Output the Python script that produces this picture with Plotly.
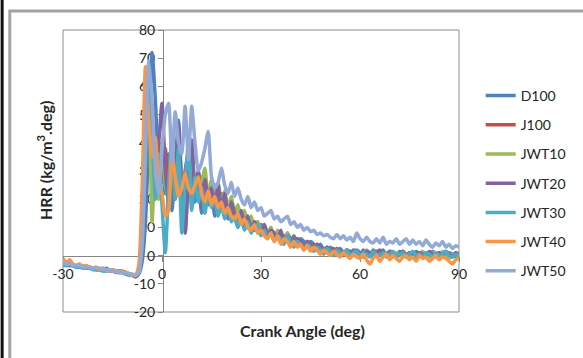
import plotly.graph_objects as go

# Crank angle grid (deg), one value per degree
angle = list(range(-30, 91))

# Heat release rate (kg/m^3.deg), rows of ten degrees starting at -30
D100 = [
    -3, -3, -3.5, -3.5, -4, -3.5, -4, -4, -4.5, -4.5,
    -4.5, -5, -5, -4.5, -5, -5, -5.5, -5.5, -5.5, -6,
    -6.5, -7, -7.5, -6.5, -2, 12, 42, 72, 55, 32,
    40, 22, 36, 16, 31, 48, 24, 8, 29, 38,
    19, 27, 15, 25, 18, 23, 14, 20, 16, 21,
    13, 17, 14, 10, 15, 11, 13, 9, 12, 8,
    11, 9, 7, 10, 6, 8, 7, 5, 8, 5,
    7, 4, 6, 5, 3, 5, 4, 2, 4, 2,
    1, 3, 2, 0.5, 2.5, 1, 2, 0.5, 2, 1.5,
    0, 2, 1, 0, 2, 1, 0.5, 2, 0, 1.5,
    1, 0, 1.5, 0.5, -0.5, 1, 0, 1.5, 0.5, -0.5,
    1, 0, 1.5, 0.5, -0.5, 1, 0, 1, 0.5, -0.5,
    0.5,
]
J100 = [
    -2.5, -3, -3, -3.5, -3.5, -4, -4, -4, -4, -4.5,
    -4.5, -5, -5, -5, -5, -5.5, -5.5, -5.5, -6, -6,
    -6.5, -7, -7, -6, 2, 30, 65, 50, 28, 40,
    26, 38, 18, 33, 20, 42, 17, 30, 36, 18,
    28, 21, 26, 17, 24, 19, 25, 16, 22, 15,
    19, 14, 16, 12, 15, 10, 13, 11, 9, 12,
    8, 10, 7, 9, 6, 8, 5, 7, 6, 4,
    6, 4, 5, 3, 5, 3, 4, 2, 3, 2,
    3, 1, 2.5, 1, 2, 0.5, 2, 1, 0, 1.5,
    1, -0.5, 1.5, 0.5, 0, 1.5, 0, 1, 0.5, -0.5,
    1, 0.5, 0, 1.5, 0, 1, -0.5, 0.5, 1, 0,
    0.5, 1, -0.5, 0.5, 1, 0, 0.5, -0.5, 0.5, 0,
    0,
]
JWT10 = [
    -3, -3, -3, -3.5, -4, -4, -3.5, -4, -4.5, -4.5,
    -5, -4.5, -5, -5, -5.5, -5, -5.5, -6, -6, -6,
    -6.5, -7, -7, -5, 8, 38, 58, 12, 35, 20,
    40, 25, 20, 38, 22, 35, 28, 14, 33, 40,
    24, 30, 26, 31, 20, 27, 22, 26, 18, 23,
    17, 21, 15, 18, 13, 16, 11, 14, 10, 12,
    9, 11, 8, 10, 6, 9, 7, 5, 8, 6,
    4, 6, 5, 3, 5, 4, 2, 4, 3, 1.5,
    3, 2, 1, 2.5, 1.5, 0.5, 2, 1, 0, 1.5,
    1, 0, 2, 0.5, -0.5, 1, 1.5, 0, 1, 0.5,
    -0.5, 1, 0, 1.5, 0.5, -0.5, 1, 0, 0.5, 1.5,
    0, -0.5, 1, 0.5, 0, 1.5, 0.5, -1, 0.5, 0,
    0.5,
]
JWT20 = [
    -3, -3.5, -3.5, -3.5, -4, -4, -4, -4.5, -4.5, -4.5,
    -5, -5, -4.5, -5, -5.5, -5.5, -5.5, -6, -6, -6.5,
    -6.5, -7, -7.5, -6, 4, 34, 62, 42, 30, 40,
    54, 30, 18, 35, 24, 46, 22, 8, 28, 41,
    22, 30, 17, 27, 21, 24, 18, 25, 16, 22,
    14, 19, 15, 12, 16, 11, 14, 9, 12, 10,
    8, 11, 7, 9, 8, 6, 9, 5, 7, 6,
    4, 6, 5, 3, 5, 4, 2.5, 4, 3, 1.5,
    3, 2, 1, 2.5, 1.5, 0, 2, 1.5, 0.5, 2,
    1, 0, 1.5, 1, -0.5, 1, 2, 0.5, 0, 1.5,
    1, -0.5, 0.5, 1.5, 0, 1, 0.5, -0.5, 1, 0.5,
    0, 1.5, 0.5, -0.5, 1, 0, 1.5, 0.5, -0.5, 1,
    0.5,
]
JWT30 = [
    -3.5, -3.5, -3, -3.5, -4, -4, -4.5, -4.5, -4.5, -5,
    -5, -5, -5.5, -5.5, -5.5, -5.5, -6, -6, -6, -6.5,
    -7, -7, -7, -6, 3, 32, 60, 44, 20, 36,
    18, 1, 24, 42, 20, 38, 8, 26, 40, 16,
    28, 19, 24, 15, 22, 17, 20, 14, 18, 13,
    17, 12, 14, 10, 13, 9, 12, 8, 10, 11,
    7, 9, 6, 8, 5, 7, 6, 4, 7, 5,
    3, 5, 4, 2, 4, 3, 1.5, 3, 2, 0.5,
    2.5, 1.5, 0, 2, 1, 0.5, 2, 0, 1, 1.5,
    0, 1, 0.5, -0.5, 1.5, 0.5, 0, 1, -0.5, 0.5,
    1.5, 0, 0.5, 1, -0.5, 0.5, 1.5, 0, 0.5, -0.5,
    1, 0.5, -0.5, 1, 0, 0.5, 1.5, 0, -0.5, 0.5,
    0,
]
JWT40 = [
    -1, -2.5, -1.5, -3, -3.5, -3, -4, -3.5, -4, -4.5,
    -4, -5, -4.5, -5, -5.5, -5, -5.5, -6, -5.5, -6,
    -6.5, -7, -7, -3, 25, 67, 48, 35, 42, 25,
    22, 14, 16, 36, 28, 21, 24, 29, 24, 22,
    25, 28, 22, 19, 23, 18, 21, 17, 19, 15,
    17, 14, 13, 15, 11, 13, 10, 9, 11, 8,
    9, 7, 6, 8, 5, 7, 4, 6, 5, 3,
    5, 3, 4, 2, 3.5, 1.5, 3, 2, 0.5, 2,
    1, 0, 1.5, 0.5, -0.5, 1, 0, -1, 0.5, -0.5,
    -1, 0.5, -1.5, -3, -1, 0, -2, -0.5, 0.5, -1.5,
    0, -1, -2, -0.5, 0, -1.5, -0.5, -2, 0, -1,
    -0.5, -2, -1, 0, -1.5, -0.5, -1, -2, -3, -1.5,
    -1,
]
JWT50 = [
    -2.5, -3, -3, -3.5, -3.5, -3.5, -4, -4, -4, -4.5,
    -4.5, -4.5, -5, -5, -5, -5.5, -5.5, -5.5, -6, -6,
    -6.5, -6.5, -7, -6, 5, 40, 69, 55, 30, 22,
    38, 50, 54, 33, 51, 40, 36, 53, 34, 53,
    40, 30, 33, 38, 44, 28, 24, 26, 31, 25,
    22, 26, 21, 24, 20, 18, 21, 17, 19, 16,
    17, 14, 15, 16, 13, 14, 12, 13, 14, 11,
    12, 10, 11, 9, 10, 8.5, 9, 7.5, 8, 7,
    7.5, 6.5, 6, 7.5, 6, 7, 5.5, 6.5, 5, 8,
    6, 5, 6.5, 5, 4.5, 6, 4.5, 6.5, 4, 5,
    4.5, 6, 4, 5, 6, 4, 5.5, 4, 5, 3.5,
    5.5, 4, 3, 4.5, 3.5, 5, 3, 4, 2.5, 3.5,
    3,
]

series_names = ["D100", "J100", "JWT10", "JWT20", "JWT30", "JWT40", "JWT50"]
series_values = [D100, J100, JWT10, JWT20, JWT30, JWT40, JWT50]
series_colors = ["#4F81BD", "#C0504D", "#9BBB59", "#8064A2",
                 "#4BACC6", "#F79646", "#93AAD6"]

x_ticks = [-30, 0, 30, 60, 90]
y_ticks = [-20, -10, 0, 10, 20, 30, 40, 50, 60, 70, 80]

W, H = 583, 358
L, R, T, B = 63, 465, 30, 312  # plot area edges in pixels


def px(x):
    return (x - L) / (R - L)


def py(y):
    return (B - y) / (B - T)


fig = go.Figure()
for name, vals, col in zip(series_names, series_values, series_colors):
    fig.add_trace(go.Scatter(
        x=angle, y=vals, name=name, mode="lines", legendgroup=name,
        line=dict(color=col, width=3.5, shape="spline", smoothing=0.6),
    ))

FONT = "Lato, Open Sans, sans-serif"
tick_font = dict(family=FONT, size=14, color="#262626")
axis_col = "#868686"

fig.update_layout(
    width=W, height=H,
    margin=dict(l=L, r=W - R, t=T, b=H - B, pad=0),
    paper_bgcolor="white", plot_bgcolor="white",
    font=tick_font,
    showlegend=True,
    legend=dict(
        x=px(487), y=py(80), xanchor="left", yanchor="top",
        traceorder="grouped", tracegroupgap=8,
        font=dict(family=FONT, size=14, color="#262626"),
        bgcolor="rgba(0,0,0,0)", itemwidth=30,
    ),
    xaxis=dict(
        range=[-30, 90], tickvals=x_ticks, ticktext=[str(v) for v in x_ticks],
        showgrid=False, zeroline=False,
        anchor="free", position=py(256), showline=True, linecolor=axis_col,
        linewidth=1, ticks="outside", ticklen=5, tickcolor=axis_col,
        layer="below traces", tickfont=tick_font,
    ),
    yaxis=dict(
        range=[-20, 80], tickvals=y_ticks, ticktext=[str(v) for v in y_ticks],
        showgrid=False, zeroline=False,
        anchor="free", position=px(164.5), showline=True, linecolor=axis_col,
        linewidth=1, ticks="outside", ticklen=5, tickcolor=axis_col,
        layer="below traces", tickfont=tick_font,
    ),
    shapes=[
        # plot area border
        dict(type="rect", xref="paper", yref="paper", x0=0, x1=1, y0=0, y1=1,
             line=dict(color="#8c8c8c", width=1), layer="below"),
        # chart frame
        dict(type="rect", xref="paper", yref="paper",
             x0=px(9), x1=px(620), y0=py(390), y1=py(11),
             line=dict(color="#a3a3a3", width=3), layer="below"),
        dict(type="line", xref="paper", yref="paper",
             x0=px(1.2), x1=px(1.2), y0=py(0), y1=py(358),
             line=dict(color="#111111", width=3)),
    ],
    annotations=[
        dict(text="Crank Angle (deg)", xref="paper", yref="paper",
             x=px(306), y=py(342), showarrow=False,
             font=dict(family=FONT, size=16, color="#262626", weight="bold")),
        dict(text="HRR (kg/m<sup>3</sup>.deg)", xref="paper", yref="paper",
             x=px(31), y=py(160), showarrow=False, textangle=-90,
             font=dict(family=FONT, size=16, color="#262626", weight="bold")),
    ],
)

fig.write_html("out.html")
